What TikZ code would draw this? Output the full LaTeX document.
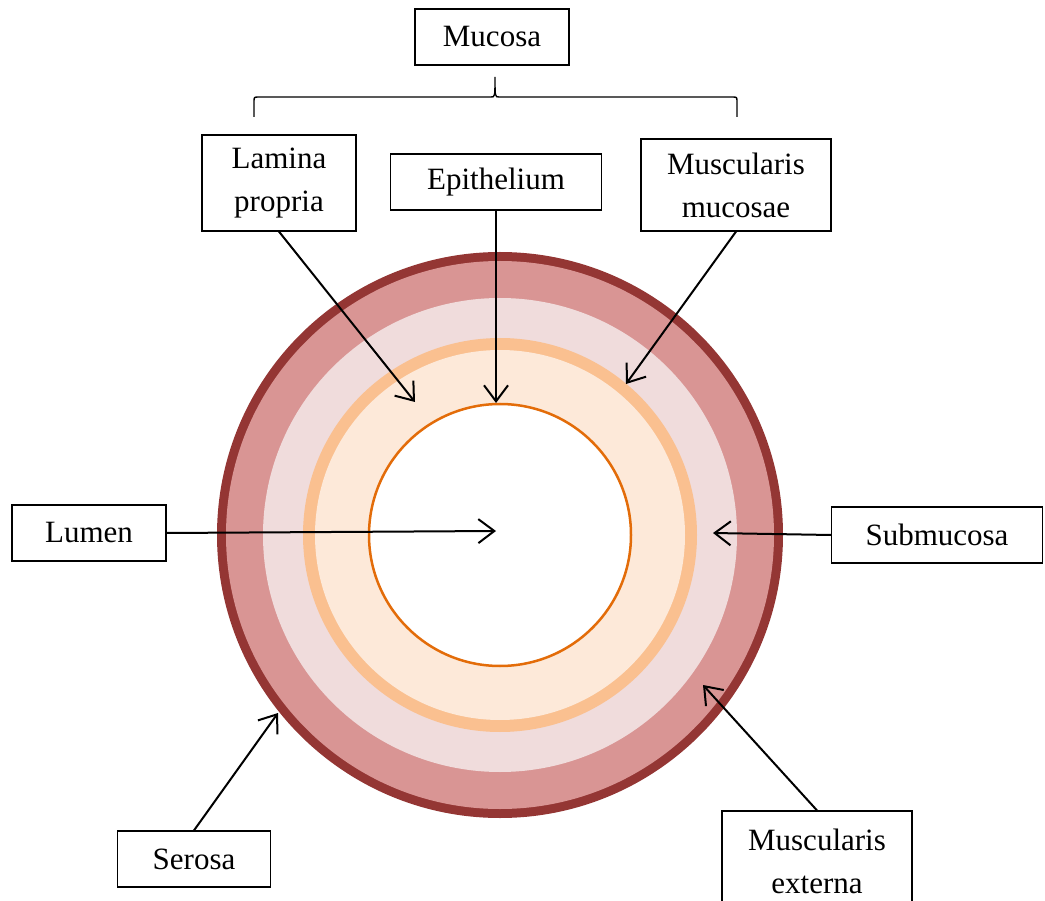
\documentclass[tikz,border=0pt]{standalone}
\usepackage{fontspec}
\setmainfont{Liberation Serif}
\usepackage{xcolor}
\usetikzlibrary{positioning,calc,arrows.meta}

\definecolor{serosa}{HTML}{943634}
\definecolor{externa}{HTML}{D99594}
\definecolor{submuc}{HTML}{F0DCDC}
\definecolor{mucmusc}{HTML}{FAC090}
\definecolor{propria}{HTML}{FDE9D9}
\definecolor{epith}{HTML}{E36C09}

\tikzset{
	layer/.style={draw, line width=1.2pt, fill=white, align=center, inner sep=0pt,
		font=\fontsize{31}{43}\selectfont},
	pointer/.style={->, line width=2pt},
}

\begin{document}
\begin{tikzpicture}[x=1pt, y=-1pt, >={Straight Barb[length=16pt,width=24pt]}]
	\useasboundingbox (0,0) rectangle (1045,901);
	\clip (0,0) rectangle (1045,901);

	% wall of the tube, outside in
	\fill[serosa] (500,535) circle (283pt);
	\fill[externa] (500,535) circle (274pt);
	\fill[submuc] (500,535) circle (237pt);
	\fill[mucmusc] (500,535) circle (197pt);
	\fill[propria] (500,535) circle (185pt);
	\draw[epith, line width=2.5pt, fill=white] (500,535) circle (131pt);

	\node[layer, minimum width=154pt, minimum height=56pt] (mucosa) at (492,37) {Mucosa};
	\node[layer, minimum width=154pt, minimum height=96pt] (lamina) at (279,183) {Lamina\\propria};
	\node[layer, minimum width=211pt, minimum height=56pt] (epithelium) at (496,182) {Epithelium};
	\node[layer, minimum width=190pt, minimum height=92pt] (mmucosae) at (736,185) {Muscularis\\mucosae};
	\node[layer, minimum width=154pt, minimum height=56pt] (lumen) at (89,533) {Lumen};
	\node[layer, minimum width=211pt, minimum height=56pt] (submucosa) at (937,535) {Submucosa};
	\node[layer, minimum width=153pt, minimum height=56pt] (serosa) at (194,859) {Serosa};
	\node[layer, minimum width=190pt, minimum height=100pt] (mexterna) at (817,861) {Muscularis\\externa};

	% brace under mucosa
	\coordinate (braceL) at (254,117);
	\coordinate (braceM) at (495,77);
	\coordinate (braceR) at (737,117);
	\draw[line width=1.4pt] (braceL) -- ++(0,-15) .. controls ++(0,-5) .. ++(5,-5)
		-- ($(braceM)+(-4,20)$) .. controls ($(braceM)+(0,20)$) .. (braceM)
		.. controls ($(braceM)+(0,20)$) .. ($(braceM)+(4,20)$)
		-- ($(braceR)+(-5,-20)$) .. controls ($(braceR)+(0,-20)$) .. ($(braceR)+(0,-15)$) -- (braceR);

	\coordinate (lamina tip) at (415,402);
	\coordinate (epithelium tip) at (496,403);
	\coordinate (mmucosae tip) at (626,384);
	\coordinate (lumen tip) at (496,531);
	\coordinate (submucosa tip) at (713,533);
	\coordinate (serosa tip) at (278,713);
	\coordinate (mexterna tip) at (703,685);

	\draw[pointer] (lamina.south) -- (lamina tip);
	\draw[pointer] (epithelium.south) -- (epithelium tip);
	\draw[pointer] (mmucosae.south) -- (mmucosae tip);
	\draw[pointer] (lumen.east) -- (lumen tip);
	\draw[pointer] (submucosa.west) -- (submucosa tip);
	\draw[pointer] (serosa.north) -- (serosa tip);
	\draw[pointer] (mexterna.north) -- (mexterna tip);
\end{tikzpicture}
\end{document}
